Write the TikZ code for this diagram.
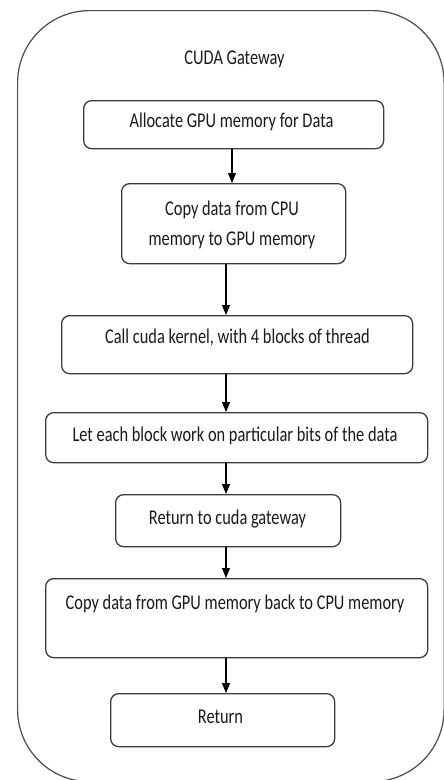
\documentclass[tikz,border=0pt]{standalone}
\usepackage{fontspec}
\newfontfamily\calfont[FakeStretch=0.78]{Carlito}
\usetikzlibrary{arrows.meta}
\definecolor{linec}{HTML}{3C3C3C}
\definecolor{outerc}{HTML}{4A4A4A}
\definecolor{textc}{HTML}{1A1A1A}
\begin{document}
\begin{tikzpicture}[x=1pt,y=-1pt,
  box/.style={draw=linec, line width=1.3pt, rounded corners=8pt, anchor=north west, inner sep=0pt},
  lbl/.style={anchor=base, inner sep=0pt, text=textc, font=\calfont\fontsize{21}{30}\selectfont},
  arr/.style={draw=black, line width=1.1pt, -{Triangle[width=8pt,length=10pt]}}]
\useasboundingbox (0,0) rectangle (444,780);
% outer container
\node[draw=outerc, line width=1.2pt, rounded corners=72pt, anchor=north west, inner sep=0pt,
      minimum width=426.5pt, minimum height=771pt] (gw) at (17,10) {};
\node[lbl] (title) at (234.5,64.5) {CUDA Gateway};
% boxes
\node[box, minimum width=300pt, minimum height=48pt] (b1) at (83,100) {};
\node[box, minimum width=224pt, minimum height=80pt] (b2) at (121,183) {};
\node[box, minimum width=351pt, minimum height=58pt] (b3) at (61,315) {};
\node[box, minimum width=382pt, minimum height=50pt] (b4) at (45,412) {};
\node[box, minimum width=225pt, minimum height=52pt] (b5) at (115,494) {};
\node[box, minimum width=382pt, minimum height=79pt] (b6) at (45,578) {};
\node[box, minimum width=224pt, minimum height=53pt] (b7) at (110,693) {};
% labels
\node[lbl] (t1) at (231.5,127.5) {Allocate GPU memory for Data};
\node[lbl] (t2a) at (232,215) {Copy data from CPU};
\node[lbl] (t2b) at (232,245) {memory to GPU memory};
\node[lbl] (t3) at (237.5,343) {Call cuda kernel, with 4 blocks of thread};
\node[lbl] (t4) at (235,441) {Let each block work on particular bits of the data};
\node[lbl] (t5) at (227.5,524) {Return to cuda gateway};
\node[lbl] (t6) at (235,609) {Copy data from GPU memory back to CPU memory};
\node[lbl] (t7) at (220.5,723) {Return};
% arrows
\coordinate (xa) at (232,0);
\coordinate (xb) at (226,0);
\draw[arr] (b1.south -| xa) -- (b2.north -| xa);
\draw[arr] (b2.south -| xb) -- (b3.north -| xb);
\draw[arr] (b3.south -| xb) -- (b4.north -| xb);
\draw[arr] (b4.south -| xb) -- (b5.north -| xb);
\draw[arr] (b5.south -| xb) -- (b6.north -| xb);
\draw[arr] (b6.south -| xb) -- (b7.north -| xb);
\end{tikzpicture}
\end{document}
